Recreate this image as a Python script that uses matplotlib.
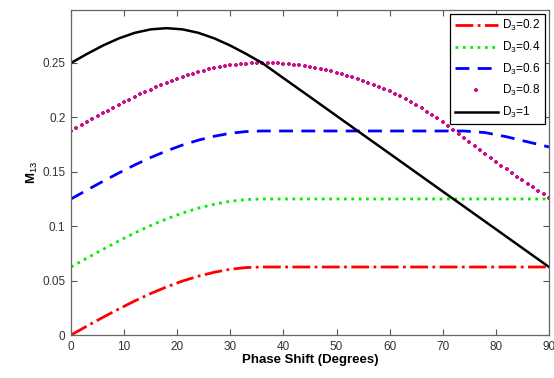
import matplotlib
matplotlib.use("Agg")
import matplotlib.pyplot as plt
from matplotlib.ticker import FormatStrFormatter

plt.rcParams["font.family"] = ["Liberation Sans", "DejaVu Sans"]
plt.rcParams["mathtext.fontset"] = "custom"
plt.rcParams["mathtext.rm"] = "Liberation Sans"

# Phase shift grid (degrees) used for the line series
phase = [0, 3, 6, 9, 12, 15, 18, 21, 24, 27, 30, 33, 36,
         40, 45, 50, 55, 60, 65, 70, 74, 78, 82, 86, 90]

m13_d02 = [0.0, 0.0082, 0.0162, 0.0239, 0.0313, 0.0381, 0.0442, 0.0496, 0.0541,
           0.0577, 0.0604, 0.0620, 0.0625,
           0.0625, 0.0625, 0.0625, 0.0625, 0.0625, 0.0625, 0.0625, 0.0625,
           0.0625, 0.0625, 0.0625, 0.0625]

m13_d04 = [0.0625, 0.0707, 0.0787, 0.0864, 0.0938, 0.1006, 0.1067, 0.1121, 0.1166,
           0.1202, 0.1229, 0.1245, 0.1250,
           0.125, 0.125, 0.125, 0.125, 0.125, 0.125, 0.125, 0.125,
           0.125, 0.125, 0.125, 0.125]

m13_d06 = [0.125, 0.1332, 0.1412, 0.1489, 0.1563, 0.1631, 0.1692, 0.1746, 0.1791,
           0.1827, 0.1854, 0.1870, 0.1875,
           0.1875, 0.1875, 0.1875, 0.1875, 0.1875, 0.1875, 0.1875, 0.1875,
           0.1860, 0.1822, 0.1775, 0.1728]

m13_d10 = [0.25, 0.2583, 0.2660, 0.2726, 0.2777, 0.2809, 0.2820, 0.2809, 0.2777,
           0.2726, 0.2660, 0.2583, 0.2500,
           0.2361, 0.2188, 0.2014, 0.1840, 0.1667, 0.1493, 0.1319, 0.1181,
           0.1042, 0.0903, 0.0764, 0.0625]

# D3 = 0.8 is drawn as markers, one per degree
phase_fine = list(range(0, 91))
m13_d08 = [0.1875, 0.1902, 0.1930, 0.1957, 0.1984, 0.2010, 0.2037, 0.2063, 0.2089, 0.2114,
           0.2139, 0.2164, 0.2188, 0.2211, 0.2234, 0.2256, 0.2277, 0.2297, 0.2317, 0.2336,
           0.2354, 0.2371, 0.2387, 0.2402, 0.2416, 0.2429, 0.2441, 0.2452, 0.2462, 0.2471,
           0.2479, 0.2485, 0.2490, 0.2495, 0.2498, 0.2499, 0.2500, 0.2500, 0.2499, 0.2497,
           0.2495, 0.2490, 0.2485, 0.2479, 0.2472, 0.2465, 0.2455, 0.2445, 0.2434, 0.2422,
           0.2410, 0.2396, 0.2382, 0.2367, 0.2351, 0.2335, 0.2317, 0.2298, 0.2279, 0.2260,
           0.2240, 0.2217, 0.2194, 0.2170, 0.2143, 0.2115, 0.2085, 0.2054, 0.2023, 0.1992,
           0.1960, 0.1923, 0.1886, 0.1849, 0.1812, 0.1775, 0.1738, 0.1701, 0.1664, 0.1627,
           0.1590, 0.1556, 0.1522, 0.1488, 0.1454, 0.1420, 0.1388, 0.1356, 0.1324, 0.1292,
           0.1260]

labels = ["D$_3$=0.2", "D$_3$=0.4", "D$_3$=0.6", "D$_3$=0.8", "D$_3$=1"]

fig = plt.figure(figsize=(5.54, 3.78), dpi=100)
ax = fig.add_axes([71 / 554, 43 / 378, 478 / 554, 325 / 378])

ax.plot(phase, m13_d02, color="#ff0000", ls="-.", lw=2, label=labels[0])
ax.plot(phase, m13_d04, color="#00ee00", ls=":", lw=2, label=labels[1])
ax.plot(phase, m13_d06, color="#0000ff", ls=(0, (5, 3)), lw=2, label=labels[2])
ax.plot(phase_fine, m13_d08, color="#c8148c", ls="none", marker="+", ms=3.5,
        mew=1.6, label=labels[3])
ax.plot(phase, m13_d10, color="black", ls="-", lw=1.8, label=labels[4])

ax.set_xlim(0, 90)
ax.set_ylim(0, 0.2987)
ax.set_xticks(range(0, 91, 10))
ax.set_yticks([0, 0.05, 0.1, 0.15, 0.2, 0.25])
ax.yaxis.set_major_formatter(FormatStrFormatter("%g"))
ax.tick_params(direction="in", length=4, width=0.8, top=True, right=True,
               labelsize=8.5, labelcolor="#333333", color="#555555", pad=4)
for sp in ax.spines.values():
    sp.set_color("#666666")
    sp.set_linewidth(0.9)

ax.set_xlabel("Phase Shift (Degrees)", fontsize=9.5, fontweight="bold", labelpad=1)
ax.set_ylabel("M$_{13}$", fontsize=9.5, fontweight="bold", labelpad=2)

leg = ax.legend(loc="upper right", fontsize=8.5, frameon=True, fancybox=False,
                framealpha=1, edgecolor="black", handlelength=3.6,
                handletextpad=0.4, labelspacing=0.55, borderaxespad=0.3,
                borderpad=0.4)
leg.get_frame().set_linewidth(0.9)

fig.savefig("out.png", dpi=100)
